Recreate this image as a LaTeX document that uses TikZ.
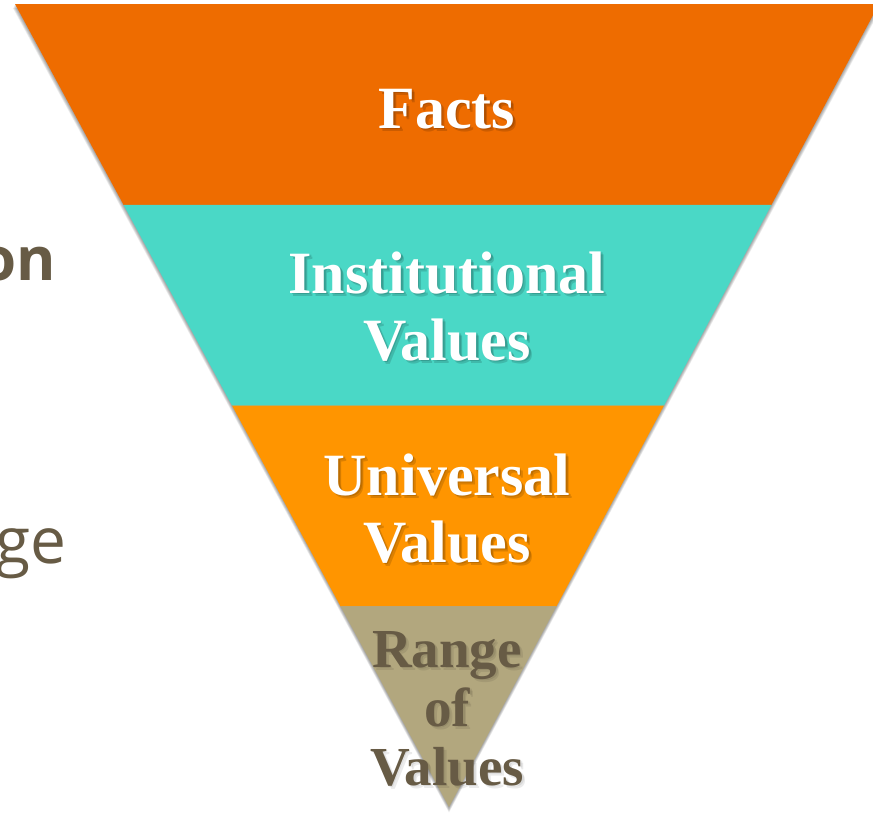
\documentclass[tikz,border=0pt]{standalone}
\usepackage{fontspec}
\setmainfont{Liberation Serif}
\newfontfamily\sidesans{Open Sans}
\usetikzlibrary{calc}

\definecolor{factsorange}{RGB}{238,108,0}
\definecolor{instteal}{RGB}{74,216,198}
\definecolor{univorange}{RGB}{255,149,0}
\definecolor{rangetan}{RGB}{178,167,126}
\definecolor{slatebrown}{RGB}{103,91,69}

\begin{document}
\begin{tikzpicture}[x=1pt,y=-1pt,
  bandfont/.style={font=\bfseries\fontsize{60}{67}\selectfont},
  smallbandfont/.style={font=\bfseries\fontsize{55}{59}\selectfont},
  bandtext/.style={anchor=base, inner sep=0pt, align=center},
  textshadow/.style={anchor=base, inner sep=0pt, align=center, text=black, text opacity=0.14},
  sidetext/.style={anchor=base east, inner sep=0pt, text=slatebrown},
]
\useasboundingbox (0,0) rectangle (873,812);

% soft drop shadow under the funnel
\foreach \d in {1,...,7}{
  \fill[black, opacity=0.06] ({15-0.3*\d},{4+0.6*\d}) -- ({879+0.3*\d},{4+0.6*\d}) -- (449,{807+0.8*\d}) -- cycle;
}

% funnel outline points
\coordinate (L0) at (15,4);
\coordinate (R0) at (879,4);
\coordinate (A)  at (449,807);
\coordinate (L1) at ($(L0)!0.25!(A)$);
\coordinate (R1) at ($(R0)!0.25!(A)$);
\coordinate (L2) at ($(L0)!0.5!(A)$);
\coordinate (R2) at ($(R0)!0.5!(A)$);
\coordinate (L3) at ($(L0)!0.75!(A)$);
\coordinate (R3) at ($(R0)!0.75!(A)$);

% the four bands
\fill[factsorange] (L0) -- (R0) -- (R1) -- (L1) -- cycle;
\fill[instteal]    (L1) -- (R1) -- (R2) -- (L2) -- cycle;
\fill[univorange]  (L2) -- (R2) -- (R3) -- (L3) -- cycle;
\fill[rangetan]    (L3) -- (R3) -- (A) -- cycle;

% band labels, each with a soft two-layer shadow (anchored at the last line's baseline)
\node[textshadow, bandfont] (factsSa) at (448.5,129.5) {Facts};
\node[textshadow, bandfont] (factsSb) at (450,131.5) {Facts};
\node[bandtext, bandfont, text=white] (facts) at (447,128) {Facts};

\node[textshadow, bandfont] (instSa) at (448.5,361.5) {Institutional\\Values};
\node[textshadow, bandfont] (instSb) at (450,363.5) {Institutional\\Values};
\node[bandtext, bandfont, text=white] (inst) at (447,360) {Institutional\\Values};

\node[textshadow, bandfont] (univSa) at (448.5,563.5) {Universal\\Values};
\node[textshadow, bandfont] (univSb) at (450,565.5) {Universal\\Values};
\node[bandtext, bandfont, text=white] (univ) at (447,562) {Universal\\Values};

\node[textshadow, smallbandfont, text opacity=0.08] (rangeSa) at (448.5,786.5) {Range\\of\\Values};
\node[textshadow, smallbandfont, text opacity=0.08] (rangeSb) at (450,788.5) {Range\\of\\Values};
\node[bandtext, smallbandfont, text=slatebrown] (range) at (447,785) {Range\\of\\Values};

% side words running off the left edge
\node[sidetext, font=\sidesans\bfseries\fontsize{60}{70}\selectfont] (sideon) at (56,280) {on};
\node[sidetext, font=\sidesans\fontsize{64}{74}\selectfont] (sidege) at (67,563) {ge};
\end{tikzpicture}
\end{document}
